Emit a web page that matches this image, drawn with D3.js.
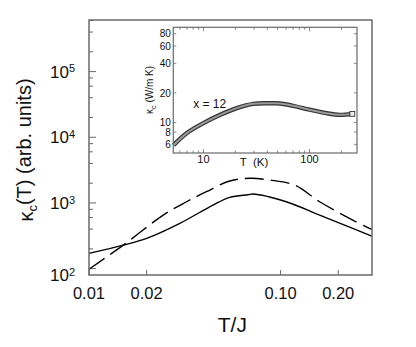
<!DOCTYPE html>
<html>
<head>
<meta charset="utf-8">
<script src="https://cdn.jsdelivr.net/npm/d3@7"></script>
<style>
  body { margin: 0; background: #fff; }
  text { font-family: "Liberation Sans", Arial, Helvetica, sans-serif; fill: #111; }
</style>
</head>
<body>
<div class="chart"></div>
<script>
// main panel: kappa_c(T) vs T/J
var solidT = [0.01, 0.0151, 0.020, 0.0298, 0.0444, 0.0543, 0.0676, 0.0717, 0.107, 0.160, 0.238, 0.299];
var solidK = [171, 228, 289, 489, 929, 1217, 1333, 1367, 1043, 654, 410, 313];

var dashT = [0.01, 0.0151, 0.0244, 0.0323, 0.041, 0.0543, 0.0689, 0.0876, 0.118, 0.160, 0.238, 0.299];
var dashK = [98, 228, 654, 1043, 1482, 2158, 2371, 2234, 1875, 1043, 548, 396];

var xTicks = [0.01, 0.02, 0.10, 0.20];
var xTickLabels = ["0.01", "0.02", "0.10", "0.20"];
var yTicks = [1e2, 1e3, 1e4, 1e5];
var yTickExp = ["2", "3", "4", "5"];

// inset: measured kappa_c (W/m K) vs T (K), x = 12
var insetT = [5.23, 6.98, 10, 14.4, 20.6, 29.5, 42.3, 48.8, 70, 100, 144, 192, 253];
var insetK = [5.87, 7.81, 9.86, 11.97, 14.0, 15.5, 15.7, 15.7, 14.8, 13.5, 12.45, 11.97, 12.25];
var insetXTicks = [10, 100];
var insetYTicks = [6, 8, 10, 20, 40, 60, 80];

var svgWidth = 416;
var svgHeight = 347;

var margin = { top: 20, right: 44, bottom: 72, left: 89 };
var width = svgWidth - margin.left - margin.right;
var height = svgHeight - margin.top - margin.bottom;

var svg = d3.select(".chart")
    .append("svg")
    .attr("width", svgWidth)
    .attr("height", svgHeight);

var chartGroup = svg.append("g")
    .attr("transform", `translate(${margin.left}, ${margin.top})`);

var yDomain = [80, 6.1e5];

var xScale = d3.scaleLog().domain([0.01, 0.3]).range([0, width]);
var yScale = d3.scaleLog().domain(yDomain).range([height, 0]);

// y minor ticks at 2,4,6,8 x 10^k
var yMinor = [];
[1e1, 1e2, 1e3, 1e4, 1e5].forEach(function (p) {
    [2, 4, 6, 8].forEach(function (m) {
        var v = m * p;
        if (v > yDomain[0] && v < yDomain[1]) yMinor.push(v);
    });
});

var frameColor = "#6a6a6a";

chartGroup.selectAll(".yminor")
    .data(yMinor)
    .enter()
    .append("line")
    .attr("x1", 0).attr("x2", 4)
    .attr("y1", d => yScale(d)).attr("y2", d => yScale(d))
    .attr("stroke", frameColor).attr("stroke-width", 1);

chartGroup.selectAll(".ymajor")
    .data(yTicks)
    .enter()
    .append("line")
    .attr("x1", 0).attr("x2", 7)
    .attr("y1", d => yScale(d)).attr("y2", d => yScale(d))
    .attr("stroke", frameColor).attr("stroke-width", 1);

chartGroup.selectAll(".xmajor")
    .data(xTicks)
    .enter()
    .append("line")
    .attr("x1", d => xScale(d)).attr("x2", d => xScale(d))
    .attr("y1", height).attr("y2", height - 5)
    .attr("stroke", frameColor).attr("stroke-width", 1);

// y tick labels, 10 with superscript exponent (lowest one sits on the axis bottom)
var yLab = chartGroup.selectAll(".ylab")
    .data(yTicks)
    .enter()
    .append("text")
    .attr("x", -14)
    .attr("y", (d, i) => i === 0 ? height : yScale(d))
    .attr("dy", "0.36em")
    .attr("text-anchor", "end")
    .style("font-size", "17px");
yLab.append("tspan").text("10");
yLab.append("tspan")
    .attr("dy", "-0.5em")
    .style("font-size", "11px")
    .text((d, i) => yTickExp[i]);

// x tick labels
chartGroup.selectAll(".xlab")
    .data(xTicks)
    .enter()
    .append("text")
    .attr("x", d => xScale(d))
    .attr("y", height + 24)
    .attr("text-anchor", "middle")
    .style("font-size", "16.5px")
    .text((d, i) => xTickLabels[i]);

// curves
var line = d3.line()
    .x(d => xScale(d[0]))
    .y(d => yScale(d[1]))
    .curve(d3.curveCatmullRom.alpha(0.5));

chartGroup.append("path")
    .datum(solidT.map((t, i) => [t, solidK[i]]))
    .attr("d", line)
    .attr("fill", "none")
    .attr("stroke", "#000")
    .attr("stroke-width", 1.4);

chartGroup.append("path")
    .datum(dashT.map((t, i) => [t, dashK[i]]))
    .attr("d", line)
    .attr("fill", "none")
    .attr("stroke", "#000")
    .attr("stroke-width", 1.4)
    .attr("stroke-dasharray", "19,7");

// frame
chartGroup.append("rect")
    .attr("x", 0).attr("y", 0)
    .attr("width", width).attr("height", height)
    .attr("fill", "none")
    .attr("stroke", frameColor)
    .attr("stroke-width", 1.5);

// axis titles
var yTitle = svg.append("text")
    .attr("transform", "translate(33, 150) rotate(-90)")
    .attr("text-anchor", "middle")
    .style("font-size", "20px");
yTitle.append("tspan").text("\u03BA");
yTitle.append("tspan").attr("dy", "0.3em").style("font-size", "13px").text("c");
yTitle.append("tspan").attr("dy", "-0.3em").text("(T) (arb. units)");

svg.append("text")
    .attr("x", margin.left + xScale(0.056))
    .attr("y", 332)
    .attr("text-anchor", "middle")
    .style("font-size", "21px")
    .text("T/J");

// ---------------- inset ----------------
var inset = { left: 173.3, top: 27.3, width: 183.7, height: 125.7 };

var insetGroup = svg.append("g")
    .attr("transform", `translate(${inset.left}, ${inset.top})`);

var ixScale = d3.scaleLog().domain([5.2, 280]).range([0, inset.width]);
var iyScale = d3.scaleLog().domain([4.9, 93]).range([inset.height, 0]);

var ixMinor = [6, 7, 8, 9, 20, 30, 40, 50, 60, 70, 80, 90, 200];

// bottom and top ticks, pointing inward
[inset.height, 0].forEach(function (edge) {
    var dir = edge === 0 ? 1 : -1;
    insetGroup.selectAll(null)
        .data(ixMinor)
        .enter()
        .append("line")
        .attr("x1", d => ixScale(d)).attr("x2", d => ixScale(d))
        .attr("y1", edge).attr("y2", edge + dir * 2.5)
        .attr("stroke", frameColor).attr("stroke-width", 0.8);
    insetGroup.selectAll(null)
        .data(insetXTicks)
        .enter()
        .append("line")
        .attr("x1", d => ixScale(d)).attr("x2", d => ixScale(d))
        .attr("y1", edge).attr("y2", edge + dir * 4)
        .attr("stroke", frameColor).attr("stroke-width", 0.8);
});

// left and right ticks
[0, inset.width].forEach(function (edge) {
    var dir = edge === 0 ? 1 : -1;
    insetGroup.selectAll(null)
        .data(insetYTicks)
        .enter()
        .append("line")
        .attr("x1", edge).attr("x2", edge + dir * 3)
        .attr("y1", d => iyScale(d)).attr("y2", d => iyScale(d))
        .attr("stroke", frameColor).attr("stroke-width", 0.8);
});

insetGroup.selectAll(".iylab")
    .data(insetYTicks)
    .enter()
    .append("text")
    .attr("x", -2.5)
    .attr("y", d => iyScale(d))
    .attr("dy", "0.36em")
    .attr("text-anchor", "end")
    .style("font-size", "10px")
    .text(d => d);

insetGroup.selectAll(".ixlab")
    .data(insetXTicks)
    .enter()
    .append("text")
    .attr("x", d => ixScale(d))
    .attr("y", inset.height + 10)
    .attr("text-anchor", "middle")
    .style("font-size", "11px")
    .text(d => d);

// data band made of densely overlapping open squares
var insetLine = d3.line()
    .x(d => ixScale(d[0]))
    .y(d => iyScale(d[1]))
    .curve(d3.curveCatmullRom.alpha(0.5));

var insetData = insetT.map((t, i) => [t, insetK[i]]);

insetGroup.append("path")
    .datum(insetData)
    .attr("d", insetLine)
    .attr("fill", "none")
    .attr("stroke", "#333")
    .attr("stroke-width", 4.4);

insetGroup.append("path")
    .datum(insetData)
    .attr("d", insetLine)
    .attr("fill", "none")
    .attr("stroke", "#9a9a9a")
    .attr("stroke-width", 2);

// the last square stands alone at the end of the band
insetGroup.selectAll(".sq")
    .data(insetData.slice(-1))
    .enter()
    .append("rect")
    .attr("x", d => ixScale(d[0]) - 2.4)
    .attr("y", d => iyScale(d[1]) - 2.4)
    .attr("width", 4.8).attr("height", 4.8)
    .attr("fill", "#f2f2f2")
    .attr("stroke", "#333")
    .attr("stroke-width", 0.9);

insetGroup.append("rect")
    .attr("x", 0).attr("y", 0)
    .attr("width", inset.width).attr("height", inset.height)
    .attr("fill", "none")
    .attr("stroke", frameColor)
    .attr("stroke-width", 1.2);

insetGroup.append("text")
    .attr("x", ixScale(8.0))
    .attr("y", iyScale(15.5))
    .attr("dy", "0.35em")
    .style("font-size", "12px")
    .text("x = 12");

var iyTitle = svg.append("text")
    .attr("transform", `translate(${inset.left - 20}, 90) rotate(-90)`)
    .attr("text-anchor", "middle")
    .style("font-size", "10px");
iyTitle.append("tspan").text("\u03BA");
iyTitle.append("tspan").attr("dy", "0.3em").style("font-size", "7.5px").text("c");
iyTitle.append("tspan").attr("dy", "-0.3em").text(" (W/m K)");

svg.append("text")
    .attr("x", inset.left + ixScale(30))
    .attr("y", inset.top + inset.height + 13)
    .attr("text-anchor", "middle")
    .style("font-size", "11.5px")
    .attr("xml:space", "preserve")
    .text("T  (K)");
</script>
</body>
</html>
